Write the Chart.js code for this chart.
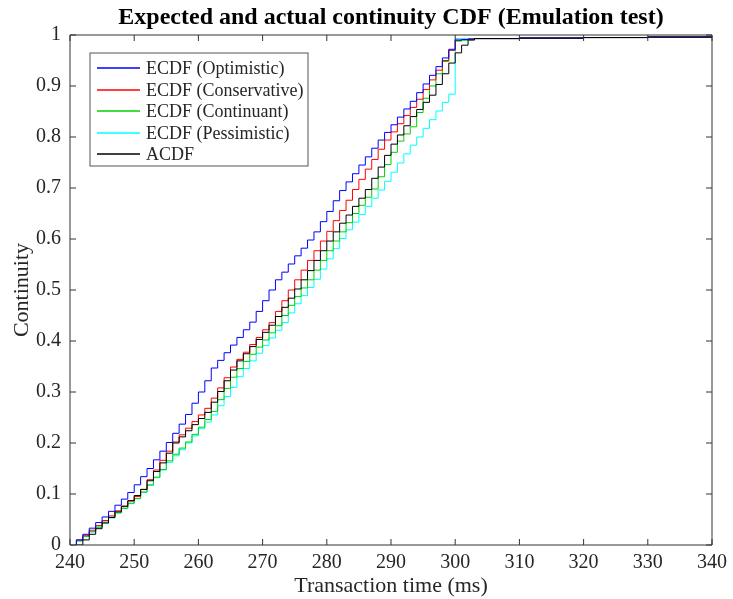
<!DOCTYPE html>
<html>
<head>
<meta charset="utf-8">
<script src="https://cdn.jsdelivr.net/npm/chart.js@4.4.0/dist/chart.umd.min.js"></script>
<style>
html,body{margin:0;padding:0;background:#ffffff;}
#wrap{width:733px;height:599px;}
</style>
</head>
<body>
<div id="wrap"><canvas id="c" width="733" height="599"></canvas></div>
<script>
// ---- data (step values at each transaction time, ms) ----
const timesMs = [241,242,243,244,245,246,247,248,249,250,
                 251,252,253,254,255,256,257,258,259,260,
                 261,262,263,264,265,266,267,268,269,270,
                 271,272,273,274,275,276,277,278,279,280,
                 281,282,283,284,285,286,287,288,289,290,
                 291,292,293,294,295,296,297,298,299,300,
                 301,302];

const optimisticCdf = [.010,.021,.033,.044,.055,.066,.078,.090,.103,.118,
                       .134,.150,.167,.184,.201,.219,.237,.256,.278,.300,
                       .322,.347,.362,.377,.392,.407,.422,.437,.458,.479,
                       .500,.520,.535,.551,.567,.582,.598,.614,.634,.654,
                       .675,.695,.712,.728,.745,.761,.778,.794,.809,.824,
                       .839,.855,.870,.887,.904,.921,.938,.955,.972,.990,
                       .991,.992];

const conservativeCdf = [.010,.019,.029,.038,.048,.057,.067,.076,.086,.095,
                         .109,.128,.147,.166,.184,.202,.216,.229,.242,.255,
                         .268,.288,.308,.328,.349,.364,.378,.393,.407,.422,
                         .436,.458,.479,.500,.520,.539,.558,.577,.596,.615,
                         .636,.656,.676,.697,.717,.737,.756,.776,.794,.810,
                         .826,.842,.858,.874,.893,.912,.931,.950,.970,.990,
                         .991,.992];

const continuantCdf = [.008,.017,.026,.035,.045,.054,.063,.072,.082,.091,
                       .104,.118,.133,.148,.165,.178,.190,.202,.217,.231,
                       .246,.262,.285,.307,.329,.346,.360,.374,.388,.402,
                       .416,.430,.450,.470,.487,.504,.520,.539,.558,.577,
                       .596,.614,.632,.650,.666,.682,.698,.722,.746,.770,
                       .792,.806,.820,.848,.876,.900,.924,.948,.970,.988,
                       .990,.992];

const pessimisticCdf = [.008,.017,.026,.035,.044,.053,.063,.072,.081,.091,
                        .103,.117,.132,.147,.162,.175,.187,.200,.214,.228,
                        .241,.255,.273,.291,.309,.330,.346,.361,.376,.391,
                        .406,.421,.436,.455,.473,.489,.505,.521,.541,.561,
                        .581,.601,.618,.633,.648,.664,.680,.696,.713,.731,
                        .749,.767,.784,.800,.817,.834,.851,.868,.884,.993,
                        .993,.993];

const actualCdf = [0,.010,.021,.032,.043,.054,.065,.076,.087,.097,
                   .109,.126,.144,.161,.180,.200,.212,.224,.236,.248,
                   .260,.280,.301,.322,.343,.361,.375,.389,.403,.417,
                   .431,.448,.466,.484,.502,.520,.538,.558,.577,.596,
                   .614,.631,.647,.664,.680,.697,.719,.741,.764,.786,
                   .804,.822,.840,.854,.868,.882,.903,.924,.945,.965,
                   .980,.990];

const tailTimes = [303, 310, 320, 330, 340];
const tailCdf   = [.993, .994, .995, .996, .997];

const seriesLabels = ['ECDF (Optimistic)','ECDF (Conservative)','ECDF (Continuant)','ECDF (Pessimistic)','ACDF'];
const seriesColors = ['#0000ff','#ff0000','#00d000','#00ffff','#000000'];
const seriesValues = [optimisticCdf, conservativeCdf, continuantCdf, pessimisticCdf, actualCdf];

const chartTitle = 'Expected and actual continuity CDF (Emulation test)';
const xTitle = 'Transaction time (ms)';
const yTitle = 'Continuity';

// ---- build datasets ----
function buildPoints(values){
  const pts = [{x: timesMs[0], y: 0}];
  timesMs.forEach((t,i)=>pts.push({x:t, y:values[i]}));
  tailTimes.forEach((t,i)=>pts.push({x:t, y:tailCdf[i]}));
  return pts;
}
const datasets = seriesValues.map((vals,i)=>({
  label: seriesLabels[i],
  data: buildPoints(vals),
  borderColor: seriesColors[i],
  backgroundColor: seriesColors[i],
  borderWidth: 1,
  pointRadius: 0,
  fill: false,
  stepped: 'before',
  tension: 0,
  order: i === 4 ? 0 : 1
}));

const FONT = "'Liberation Serif', 'Times New Roman', serif";
const AXIS_COLOR = '#333333';

// axes box, inward ticks and legend (MATLAB style)
const matlabDecor = {
  id: 'matlabDecor',
  afterDraw(chart){
    const ctx = chart.ctx;
    const a = chart.chartArea;
    const xs = chart.scales.x, ys = chart.scales.y;
    ctx.save();
    ctx.strokeStyle = AXIS_COLOR;
    ctx.lineWidth = 1;
    ctx.beginPath();
    ctx.rect(a.left, a.top, a.right - a.left, a.bottom - a.top);
    ctx.stroke();
    const tl = 6;
    ctx.beginPath();
    xs.ticks.forEach(t=>{
      const px = xs.getPixelForValue(t.value);
      ctx.moveTo(px, a.bottom); ctx.lineTo(px, a.bottom - tl);
      ctx.moveTo(px, a.top); ctx.lineTo(px, a.top + tl);
    });
    ys.ticks.forEach(t=>{
      const py = ys.getPixelForValue(t.value);
      ctx.moveTo(a.left, py); ctx.lineTo(a.left + tl, py);
      ctx.moveTo(a.right, py); ctx.lineTo(a.right - tl, py);
    });
    ctx.stroke();

    // legend
    const lx = 90, ly = 53, lw = 218, lh = 113;
    ctx.fillStyle = '#ffffff';
    ctx.fillRect(lx, ly, lw, lh);
    ctx.strokeStyle = '#555555';
    ctx.strokeRect(lx, ly, lw, lh);
    ctx.font = '18px ' + FONT;
    ctx.textBaseline = 'middle';
    ctx.textAlign = 'left';
    chart.data.datasets.forEach((ds,i)=>{
      const cy = Math.round(ly + 15 + i * 21.5);
      ctx.strokeStyle = ds.borderColor;
      ctx.lineWidth = 1.5;
      ctx.beginPath();
      ctx.moveTo(lx + 7, cy); ctx.lineTo(lx + 50, cy);
      ctx.stroke();
      ctx.fillStyle = '#262626';
      ctx.fillText(ds.label, lx + 56, cy + 1);
    });
    ctx.restore();
  }
};

new Chart(document.getElementById('c'), {
  type: 'line',
  data: { datasets },
  options: {
    responsive: false,
    animation: false,
    devicePixelRatio: 1,
    layout: { padding: { left: 0, right: 16, top: 0, bottom: 0 } },
    plugins: {
      legend: { display: false },
      tooltip: { enabled: false },
      title: {
        display: true,
        text: chartTitle,
        fullSize: false,
        color: '#000000',
        font: { family: FONT, size: 24, weight: 'bold', lineHeight: 1.2 },
        padding: { top: 3, bottom: 3.2 }
      }
    },
    scales: {
      x: {
        type: 'linear',
        min: 240, max: 340,
        grid: { display: false, drawTicks: false },
        border: { display: false },
        ticks: { stepSize: 10, padding: 6, color: '#262626', font: { family: FONT, size: 20 }, maxRotation: 0 },
        title: { display: true, text: xTitle, color: '#262626', font: { family: FONT, size: 22 }, padding: { top: 0, bottom: 0 } },
        afterFit: s => { s.height = 54; }
      },
      y: {
        type: 'linear',
        min: 0, max: 1,
        grid: { display: false, drawTicks: false },
        border: { display: false },
        ticks: { stepSize: 0.1, padding: 9, color: '#262626', font: { family: FONT, size: 20 },
                 callback: v => String(Math.round(v * 10) / 10) },
        title: { display: true, text: yTitle, color: '#262626', font: { family: FONT, size: 22 }, padding: { top: 9, bottom: 0 } },
        afterFit: s => { s.width = 70; }
      }
    }
  },
  plugins: [matlabDecor]
});
</script>
</body>
</html>
